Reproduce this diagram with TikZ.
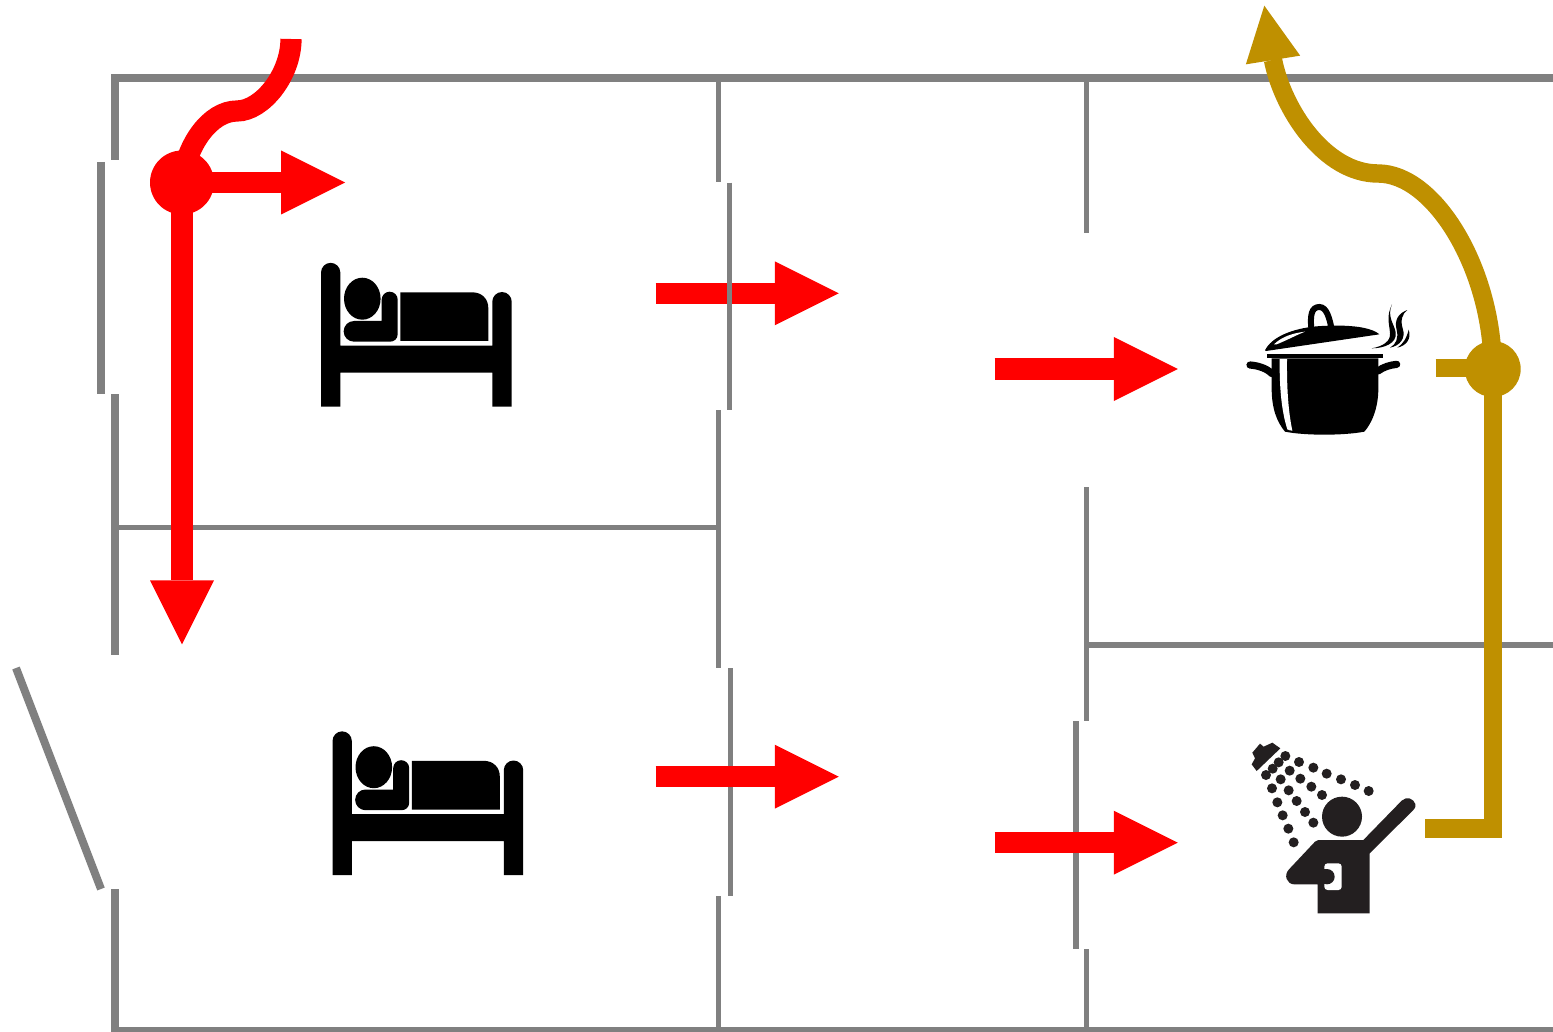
\documentclass[tikz,border=0pt]{standalone}
\usetikzlibrary{arrows.meta}
\definecolor{wallgray}{HTML}{808080}
\definecolor{gold}{HTML}{BF9000}
\definecolor{showerink}{HTML}{231F20}
\tikzset{
  outerwall/.style={draw=wallgray,line width=4pt,line join=miter},
  innerwall/.style={draw=wallgray,line width=2.75pt},
  redflow/.style={draw=red,line width=10.6pt,-{Triangle[length=32pt,width=32pt,line width=0pt]}},
  redline/.style={draw=red,line width=10.6pt},
  goldline/.style={draw=gold,line width=9.2pt,line join=miter},
  goldflow/.style={draw=gold,line width=9.2pt,-{Triangle[length=27.5pt,width=27.5pt,line width=0pt]}},
  reddot/.style={circle,fill=red,inner sep=0pt,minimum size=32pt},
  golddot/.style={circle,fill=gold,inner sep=0pt,minimum size=28pt},
  bedicon/.pic={
    \fill[black] (321,406.7)--(321,272.5) arc[start angle=180,end angle=360,radius=9.65]
      --(340.3,345.7)--(492.3,345.7)--(492.3,301.7) arc[start angle=180,end angle=360,radius=9.7]
      --(511.7,406.7)--(492.3,406.7)--(492.3,372.7)--(340.3,372.7)--(340.3,406.7)--cycle;
    \fill[black] (362.3,298.7) ellipse[x radius=18.3,y radius=21];
    \fill[black] (354,321)--(381.7,321)--(381.7,299.7) arc[start angle=180,end angle=360,radius=8]
      --(397.7,334) .. controls (397.7,339) and (394,341.7) .. (390,341.7)
      --(354,341.7) arc[start angle=90,end angle=270,radius=10.35]--cycle;
    \fill[black] (400.3,292.3)--(472,292.3) .. controls (482,292.3) and (488.3,299) .. (488.3,308)
      --(488.3,341)--(400.3,341)--cycle;
  }
}
\begin{document}
\begin{tikzpicture}[x=0.5pt,y=-0.5pt]
\useasboundingbox (0,0) rectangle (1553,1032);
\fill[white] (0,0) rectangle (1553,1032);
\clip (0,0) rectangle (1553,1032);
% junctions
\coordinate (redjoin) at (182,182.5);
\coordinate (redstart) at (291,39);
\coordinate (redmid) at (237,111);
\coordinate (redend) at (182,644.3);
\coordinate (redright) at (345,182.5);
\coordinate (goldjoin) at (1492.7,369);
\coordinate (goldstub) at (1435.7,367.7);
\coordinate (goldstubend) at (1475,367.7);
\coordinate (showerend) at (1425,828.3);
\coordinate (showercorner) at (1492.7,828.3);
\coordinate (goldmid) at (1378,173.5);
\coordinate (goldneck) at (1273,60);
\coordinate (goldtip) at (1264.3,5.7);
% walls
\draw[outerwall] (115,160)--(115,78)--(1553,78);
\draw[outerwall] (115,889)--(115,1031)--(1553,1031);
\draw[outerwall] (115,394)--(115,655);
\draw[outerwall] (101,162)--(101,394);
\draw[outerwall] (16,668)--(101,889);
\draw[innerwall] (118,527.7)--(718,527.7);
\draw[innerwall] (718.3,78)--(718.3,182);
\draw[innerwall] (718.3,410)--(718.3,668);
\draw[innerwall] (718.3,896)--(718.3,1030);
\draw[innerwall] (730.5,668)--(730.5,896);
\draw[innerwall] (1086.3,78)--(1086.3,233);
\draw[innerwall] (1086.3,487)--(1086.3,721);
\draw[innerwall] (1086.3,949)--(1086.3,1030);
\draw[innerwall] (1075.8,721)--(1075.8,949);
\draw[innerwall] (1086,645)--(1553,645);
% red flows
\draw[redline] (redstart) .. controls (291,75) and (262,111) .. (redmid)
  .. controls (210,111) and (186,145) .. (redjoin);
\draw[redflow] (redjoin)--(redend);
\draw[redflow] (redjoin)--(redright);
\node[reddot] (reddotnode) at (redjoin) {};
\coordinate (a1s) at (655.7,293.3); \coordinate (a1e) at (838.8,293.3);
\coordinate (a2s) at (655.7,776.7); \coordinate (a2e) at (838.8,776.7);
\coordinate (a3s) at (994.7,369);   \coordinate (a3e) at (1177.8,369);
\coordinate (a4s) at (994.7,842.7); \coordinate (a4e) at (1177.8,842.7);
\draw[redflow] (a1s)--(a1e);
\draw[redflow] (a2s)--(a2e);
\draw[redflow] (a3s)--(a3e);
\draw[redflow] (a4s)--(a4e);
\draw[innerwall] (729.5,182.7)--(729.5,410);
% gold flows
\draw[goldline] (showerend)--(showercorner)--(goldjoin);
\draw[goldline] (goldstub)--(goldstubend);
\draw[goldflow] (goldjoin) .. controls (1492.7,270) and (1435,173.5) .. (goldmid)
  .. controls (1325,173.5) and (1283,110) .. (goldneck)--(goldtip);
\node[golddot] (golddotnode) at (goldjoin) {};
% beds
\pic at (0,0) {bedicon};
\pic at (11.5,468.5) {bedicon};
% pot
\begin{scope}[shift={(1230,295)},x=0.16667pt,y=-0.16667pt]
\fill[black] (110,177) rectangle (458,188);
\fill[black] (125,190)--(445,190)--(445,280) .. controls (445,340) and (425,385) .. (403,410)
  .. controls (340,422) and (225,422) .. (165,410) .. controls (140,380) and (125,340) .. (125,280)--cycle;
\fill[white] (149,192)--(171,192) .. controls (170,280) and (175,350) .. (187,407)
  .. controls (182,407) and (175,405) .. (172,403) .. controls (155,350) and (148,280) .. (149,192)--cycle;
\draw[black,line width=3.6pt,line cap=round] (60,210) .. controls (85,212) and (110,220) .. (126,236);
\draw[black,line width=3.6pt,line cap=round] (500,208) .. controls (480,210) and (460,216) .. (444,228);
\fill[black] (105,166) .. controls (125,125) and (190,100) .. (260,94)
  .. controls (340,88) and (420,93) .. (448,118)--(108,168)--cycle;
\fill[white] (132,148) .. controls (155,125) and (190,114) .. (225,110)
  .. controls (195,122) and (170,136) .. (140,148)--cycle;
\draw[black,line width=3pt] (244,100) .. controls (240,60) and (245,36) .. (268,36)
  .. controls (290,36) and (298,70) .. (304,98);
\fill[black] (425,160) .. controls (462,160) and (502,145) .. (497,112)
  .. controls (492,85) and (470,65) .. (486,28)
  .. controls (468,65) and (478,85) .. (480,115)
  .. controls (482,138) and (460,154) .. (425,160)--cycle;
\fill[black] (480,158) .. controls (510,152) and (528,130) .. (518,100)
  .. controls (510,75) and (518,55) .. (532,45)
  .. controls (505,55) and (492,75) .. (500,105)
  .. controls (506,130) and (498,148) .. (480,158)--cycle;
\fill[black] (502,158) .. controls (530,152) and (545,130) .. (536,104)
  .. controls (530,130) and (518,148) .. (502,158)--cycle;
\end{scope}
% shower
\begin{scope}[shift={(1235,730)},x=0.16667pt,y=-0.16667pt,showerink]
\fill (52,68)--(75,41)--(86,50)--(112,38)--(136,55)--(65,123)--(50,103)--(60,85)--cycle;
\foreach \dx/\dy in {151/78,131/97,113/116,93/135,192/96,235/113,275/131,318/148,360/165,401/183,
  164/122,137/148,196/146,111/175,161/181,229/170,261/195,127/217,185/213,143/256,210/246,160/296,235/278,176/337}
  \fill (\dx,\dy) circle[radius=15];
\fill (321,260) circle[radius=60];
\fill (250,330)--(385,330)--(500,212) .. controls (515,198) and (535,205) .. (541,222)
  .. controls (543,230) and (540,235) .. (535,240)--(404,370)--(404,550)--(248,550)--(248,463)--(178,463)
  .. controls (155,463) and (145,435) .. (162,418)--(240,335) .. controls (243,332) and (246,330) .. (250,330)--cycle;
\fill[white,rounded corners=1.6pt] (268,400) rectangle (320,480);
\fill (276,440) circle[radius=23];
\fill (245,417) rectangle (276,463);
\end{scope}
\end{tikzpicture}
\end{document}
